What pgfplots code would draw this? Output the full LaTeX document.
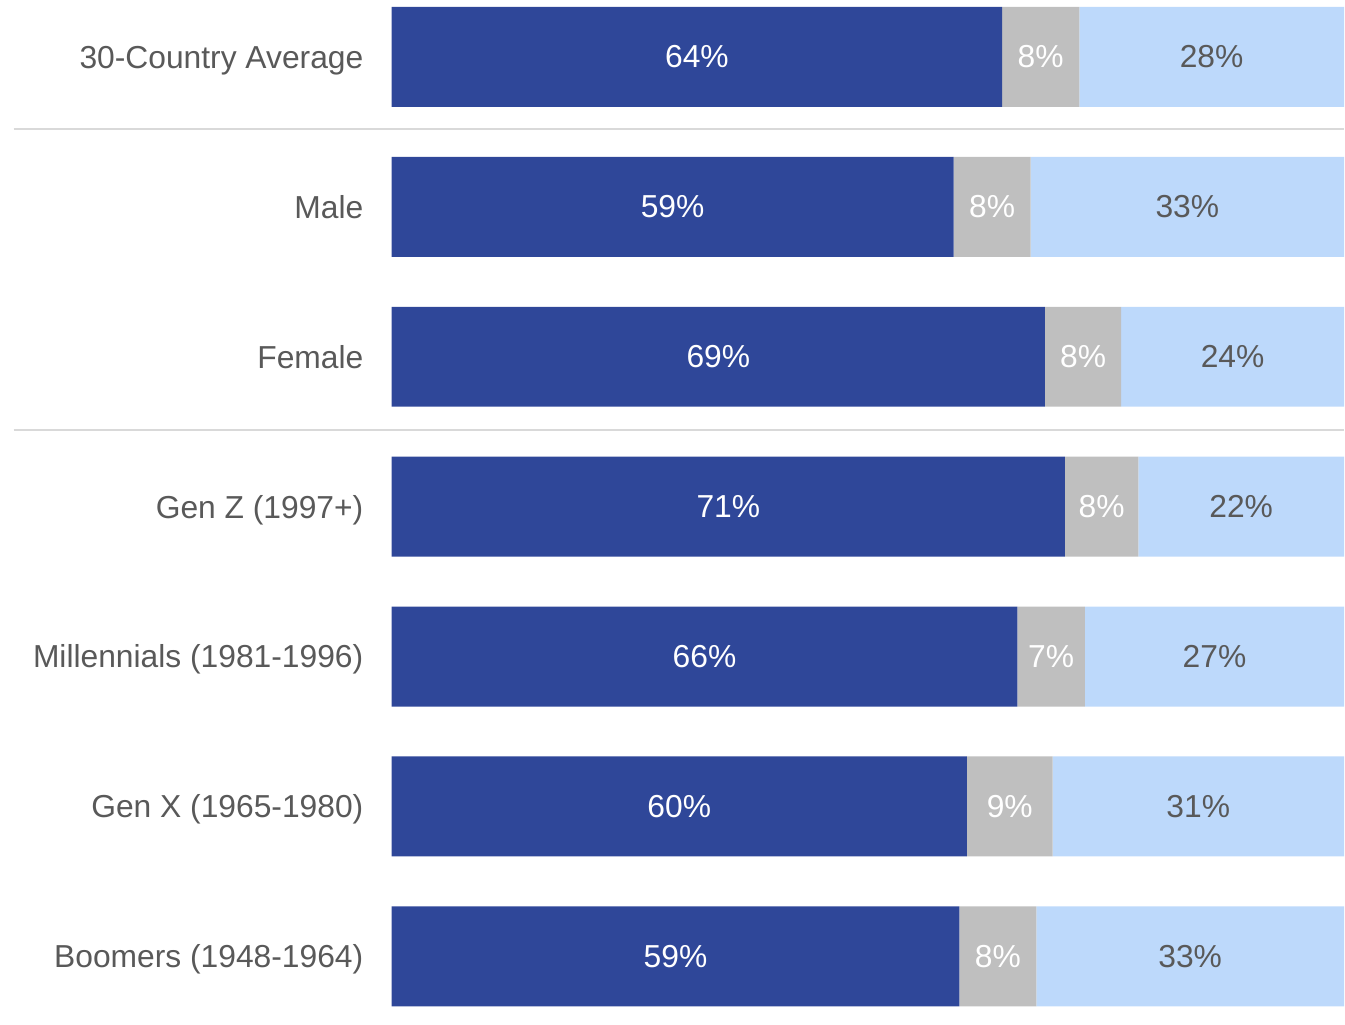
\documentclass[border=0pt]{standalone}
\usepackage{pgfplots}
\usepackage{pgfplotstable}
\pgfplotsset{compat=1.18}
\usepackage{fontspec}
\setmainfont{Liberation Sans}

\definecolor{agreeblue}{HTML}{2F4799}
\definecolor{neutralgray}{HTML}{BFBFBF}
\definecolor{lightblue}{HTML}{BDD9FB}
\definecolor{labelgray}{HTML}{595959}
\definecolor{sepgray}{HTML}{D9D9D9}

% segment widths and the printed labels
\pgfplotstableread{
y v lab
0 64.1 64
1 59.0 59
2 68.6 69
3 70.7 71
4 65.7 66
5 60.4 60
6 59.6 59
}\darkdata
\pgfplotstableread{
y v lab
0 8.1 8
1 8.1 8
2 8.0 8
3 7.7 8
4 7.1 7
5 9.0 9
6 8.1 8
}\graydata
\pgfplotstableread{
y v lab
0 27.8 28
1 32.9 33
2 23.4 24
3 21.6 22
4 27.2 27
5 30.6 31
6 32.3 33
}\lightdata

\begin{document}
\begin{tikzpicture}
\begin{axis}[
    xbar stacked,
    scale only axis,
    width=476.5pt, height=512.5pt,
    xmin=0, xmax=100,
    ymin=-0.38, ymax=6.453,
    y dir=reverse,
    bar width=0.667,
    clip=false,
    axis line style={draw=none},
    major tick length=0pt,
    xtick=\empty,
    ytick={0,...,6},
    yticklabels={30-Country Average, Male, Female, Gen Z (1997+), Millennials (1981-1996), Gen X (1965-1980), Boomers (1948-1964)},
    yticklabel style={font=\fontsize{15.9}{19}\selectfont, text=labelgray, anchor=base east, inner sep=0pt, xshift=-14pt, yshift=-5.7pt},
    every axis plot/.append style={draw=none},
    nodes near coords={\pgfplotspointmeta\%},
    point meta=explicit symbolic,
    every node near coord/.append style={font=\fontsize{15.9}{19}\selectfont, anchor=center},
]
\addplot[fill=agreeblue, nodes near coords style={text=white}] table[x=v, y=y, meta=lab] {\darkdata};
\addplot[fill=neutralgray, nodes near coords style={text=white}] table[x=v, y=y, meta=lab] {\graydata};
\addplot[fill=lightblue, nodes near coords style={text=labelgray}] table[x=v, y=y, meta=lab] {\lightdata};
\draw[sepgray, line width=1pt] (axis cs:-39.7,0.48) -- (axis cs:100,0.48);
\draw[sepgray, line width=1pt] (axis cs:-39.7,2.49) -- (axis cs:100,2.49);
\end{axis}
\path (current axis.south west) ++(-196pt,0) rectangle (current axis.north east);
\end{tikzpicture}
\end{document}
